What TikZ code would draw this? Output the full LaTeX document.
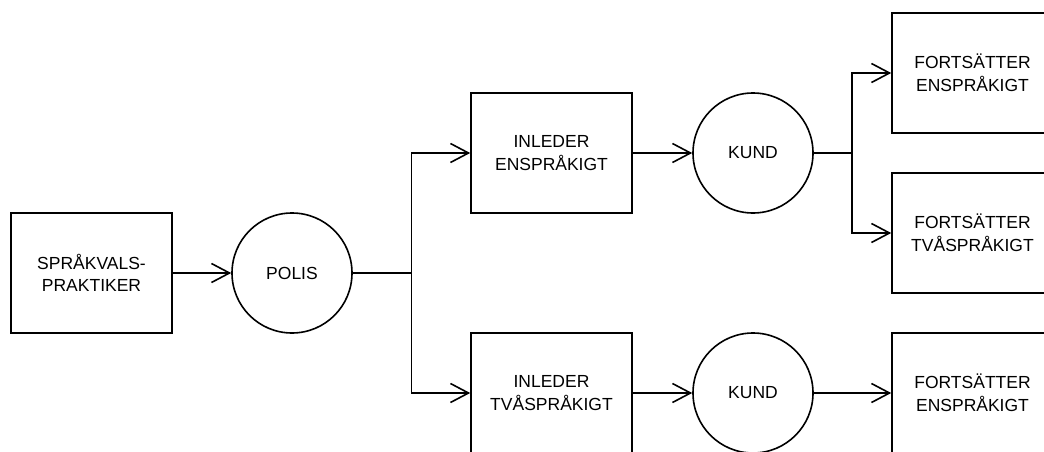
\documentclass[tikz,border=0pt]{standalone}
\usepackage{fontspec}
\setmainfont{Liberation Sans}
\usetikzlibrary{arrows.meta}
\begin{document}
\begin{tikzpicture}[x=1pt,y=-1pt,
  every node/.style={font=\fontsize{17.5}{22.5}\selectfont, align=center, inner sep=0pt},
  box/.style={draw, line width=1.6pt, minimum width=161pt, minimum height=120pt},
  actor/.style={draw, circle, line width=1.6pt, minimum size=120pt},
  link/.style={line width=1.6pt},
  flow/.style={link, -{Straight Barb[length=18pt,width=19pt,line width=1.6pt]}}]
  \useasboundingbox (0,0) rectangle (1044,452);
  \clip (0,0) rectangle (1044,452);

  % nodes
  \node[box]   (prakt) at (91.5,273) {SPRÅKVALS-\\PRAKTIKER};
  \node[actor] (polis) at (292,273)  {POLIS};
  \node[box]   (ien)   at (551.5,153) {INLEDER\\ENSPRÅKIGT};
  \node[box]   (itv)   at (551.5,393) {INLEDER\\TVÅSPRÅKIGT};
  \node[actor] (kund1) at (753,153)  {KUND};
  \node[actor] (kund2) at (753,393)  {KUND};
  \node[box]   (fen1)  at (972.5,73)  {FORTSÄTTER\\ENSPRÅKIGT};
  \node[box]   (ftv)   at (972.5,233) {FORTSÄTTER\\TVÅSPRÅKIGT};
  \node[box]   (fen2)  at (972.5,393) {FORTSÄTTER\\ENSPRÅKIGT};

  % branch points
  \coordinate (split1) at (411.5,273);
  \coordinate (split2) at (852,153);

  % connectors
  \draw[flow] (prakt) -- (polis);
  \draw[link] (polis) -- (split1);
  \draw[flow] (split1) |- (ien.west);
  \draw[flow] (split1) |- (itv.west);
  \draw[flow] (ien) -- (kund1);
  \draw[flow] (itv) -- (kund2);
  \draw[link] (kund1) -- (split2);
  \draw[flow] (split2) |- (fen1.west);
  \draw[flow] (split2) |- (ftv.west);
  \draw[flow] (kund2) -- (fen2);
\end{tikzpicture}
\end{document}
